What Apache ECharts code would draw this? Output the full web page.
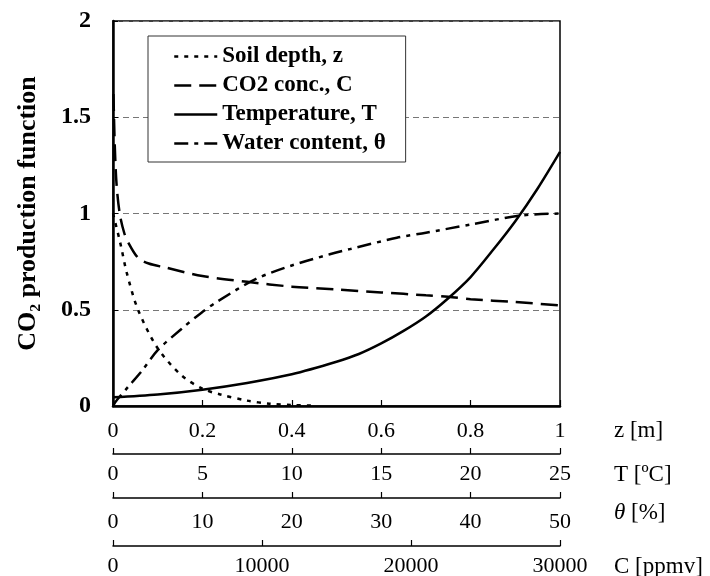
<!DOCTYPE html>
<html><head><meta charset="utf-8">
<script src="https://cdn.jsdelivr.net/npm/echarts@6/dist/echarts.min.js"></script>
<style>html,body{margin:0;padding:0;background:#fff}#c{width:710px;height:576px}</style>
</head><body><div id="c"></div>
<script>
// Legend / series names
const seriesNames = ['Soil depth, z', 'CO2 conc., C', 'Temperature, T', 'Water content, θ'];

// Axis ranges (tick labels)
const zTicks = [0, 0.2, 0.4, 0.6, 0.8, 1];
const tTicks = [0, 5, 10, 15, 20, 25];
const thetaTicks = [0, 10, 20, 30, 40, 50];
const cTicks = [0, 10000, 20000, 30000];
const yTicks = [0, 0.5, 1, 1.5, 2];

// Soil depth function (dotted) vs z [m]
const depthZ = [0, 0.016, 0.031, 0.056, 0.1, 0.153, 0.2, 0.24, 0.3, 0.35, 0.4, 0.45];
const depthF = [1.0, 0.85, 0.69, 0.50, 0.30, 0.16, 0.09, 0.06, 0.028, 0.012, 0.005, 0.002];

// CO2 concentration function (dashed) vs z scale
const co2Z = [0.001, 0.004, 0.008, 0.015, 0.025, 0.034, 0.056, 0.08, 0.116, 0.2, 0.3, 0.4, 0.5, 0.6, 0.7, 0.75, 0.8, 0.9, 1.0];
const co2F = [1.62, 1.35, 1.15, 1.0, 0.9, 0.85, 0.77, 0.74, 0.72, 0.675, 0.645, 0.62, 0.605, 0.59, 0.575, 0.567, 0.555, 0.54, 0.522];

// Temperature function (solid) vs z scale
const tempZ = [0, 0.1, 0.2, 0.3, 0.4, 0.5, 0.55, 0.6, 0.65, 0.7, 0.75, 0.8, 0.85, 0.9, 0.95, 1.0];
const tempF = [0.045, 0.06, 0.085, 0.12, 0.165, 0.23, 0.27, 0.325, 0.39, 0.465, 0.56, 0.67, 0.81, 0.96, 1.13, 1.32];

// Water content function (dash-dot) vs z scale
const waterZ = [0, 0.005, 0.034, 0.064, 0.1, 0.153, 0.198, 0.235, 0.32, 0.4, 0.485, 0.53, 0.635, 0.7, 0.8, 0.914, 1.0];
const waterF = [0, 0.02, 0.10, 0.18, 0.29, 0.40, 0.485, 0.545, 0.66, 0.73, 0.788, 0.815, 0.874, 0.9, 0.943, 0.99, 1.0];

const zip = (xs, ys) => xs.map((x, i) => [x, ys[i]]);
const SERIF = 'Liberation Serif';

function bottomAxis(opts) {
  const ticks = opts.ticks;
  return {
    type: 'value', gridIndex: 0, position: 'bottom', offset: opts.offset,
    min: ticks[0], max: ticks[ticks.length - 1], interval: ticks[1] - ticks[0],
    axisLine: { show: true, onZero: false, lineStyle: { color: '#000', width: opts.lineWidth } },
    axisTick: { show: true, inside: true, length: 6, lineStyle: { color: '#000', width: 1.2 } },
    axisLabel: { show: true, margin: opts.margin, color: '#000', fontFamily: SERIF, fontSize: 22, formatter: v => String(v) },
    splitLine: { show: false },
    name: opts.name, nameLocation: 'end', nameGap: 54,
    nameTextStyle: Object.assign({ color: '#000', fontFamily: SERIF, fontSize: 23, align: 'left', verticalAlign: 'top', padding: [opts.namePad, 0, 0, 0] }, opts.nameExtra || {})
  };
}

const chart = echarts.init(document.getElementById('c'), null, { renderer: 'canvas' });
chart.setOption({
  backgroundColor: '#fff',
  animation: false,
  grid: { left: 113, right: 150, top: 21, bottom: 170, show: true, borderColor: '#000', borderWidth: 1.5, backgroundColor: 'transparent', containLabel: false, outerBoundsMode: 'none' },
  legend: {
    orient: 'vertical', left: 148, top: 36,
    data: seriesNames,
    itemWidth: 43, itemHeight: 14, itemGap: 6,
    padding: [9, 20, 7, 25],
    backgroundColor: '#fff', borderColor: '#333', borderWidth: 1, borderRadius: 0,
    selectedMode: false,
    itemStyle: { opacity: 0 },
    lineStyle: { width: 2.5, color: '#000' },
    textStyle: { fontFamily: SERIF, fontWeight: 'bold', fontSize: 23, color: '#000', lineHeight: 22 }
  },
  xAxis: [
    bottomAxis({ ticks: zTicks, offset: 0, lineWidth: 2.5, margin: 14, name: 'z [m]', namePad: 13 }),
    bottomAxis({ ticks: tTicks, offset: 48, lineWidth: 1.5, margin: 9, name: 'T [ºC]', namePad: 9 }),
    bottomAxis({ ticks: thetaTicks, offset: 92, lineWidth: 1.5, margin: 13, name: '{it|θ} [%]', namePad: 3,
      nameExtra: { rich: { it: { fontStyle: 'italic', fontFamily: SERIF, fontSize: 23, color: '#000' } } } }),
    bottomAxis({ ticks: cTicks, offset: 140, lineWidth: 1.5, margin: 9, name: 'C [ppmv]', namePad: 9 })
  ],
  yAxis: {
    type: 'value', min: yTicks[0], max: yTicks[yTicks.length - 1], interval: yTicks[1] - yTicks[0],
    axisLine: { show: true, onZero: false, lineStyle: { color: '#000', width: 2.5 } },
    axisTick: { show: true, inside: true, length: 5, lineStyle: { color: '#000', width: 1 } },
    axisLabel: { margin: 22, color: '#000', fontFamily: SERIF, fontWeight: 'bold', fontSize: 24 },
    splitLine: { show: true, lineStyle: { color: '#777', width: 1, type: [6, 4] } },
    name: 'CO₂ production function', nameLocation: 'middle', nameGap: 72, nameRotate: 90,
    nameTextStyle: { color: '#000', fontFamily: SERIF, fontWeight: 'bold', fontSize: 26 }
  },
  series: [
    { name: seriesNames[0], type: 'line', xAxisIndex: 0, data: zip(depthZ, depthF), smooth: 0.3, symbol: 'none', showSymbol: false,
      lineStyle: { color: '#000', width: 2.5, type: [4, 6] }, itemStyle: { color: '#000' } },
    { name: seriesNames[1], type: 'line', xAxisIndex: 0, data: zip(co2Z, co2F), smooth: 0.3, symbol: 'none', showSymbol: false,
      lineStyle: { color: '#000', width: 2.5, type: [17, 8] }, itemStyle: { color: '#000' } },
    { name: seriesNames[2], type: 'line', xAxisIndex: 0, data: zip(tempZ, tempF), smooth: 0.3, symbol: 'none', showSymbol: false,
      lineStyle: { color: '#000', width: 2.5, type: 'solid' }, itemStyle: { color: '#000' } },
    { name: seriesNames[3], type: 'line', xAxisIndex: 0, data: zip(waterZ, waterF), smooth: 0.3, symbol: 'none', showSymbol: false,
      lineStyle: { color: '#000', width: 2.5, type: [14, 6, 4, 6] }, itemStyle: { color: '#000' } }
  ]
});
</script>
</body></html>
